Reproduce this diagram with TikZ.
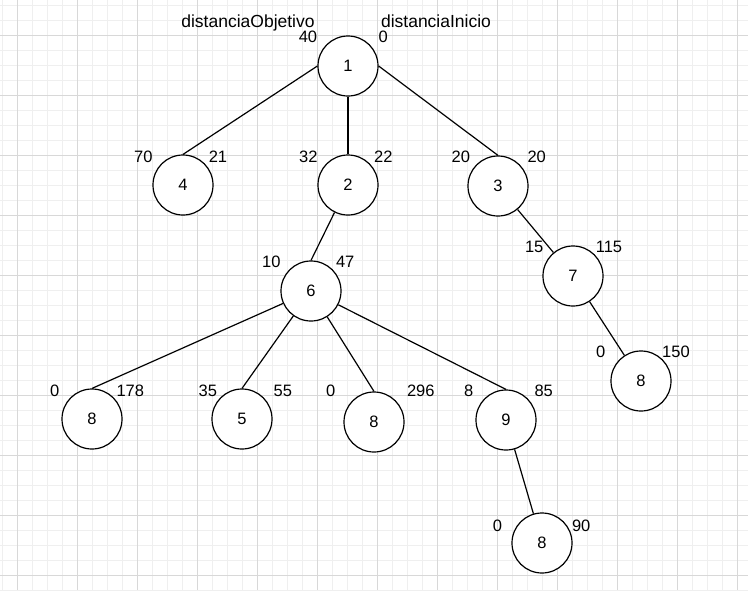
\documentclass[tikz,border=0pt]{standalone}
\usepackage{fontspec}
\setmainfont{Liberation Sans}
\definecolor{minorgrid}{HTML}{EFEFEF}
\definecolor{majorgrid}{HTML}{D8D8D8}
\begin{document}
\begin{tikzpicture}[x=1pt,y=-1pt,
  minorline/.style={draw=minorgrid,line width=0.8pt},
  majorline/.style={draw=majorgrid,line width=0.8pt},
  vert/.style={circle,draw,line width=1.2pt,fill=white,minimum size=60pt,inner sep=0pt,font=\fontsize{16.5}{18}\selectfont},
  num/.style={anchor=base,inner sep=0pt,font=\fontsize{16.5}{18}\selectfont},
  head/.style={anchor=base,inner sep=0pt,font=\fontsize{17.5}{19}\selectfont},
  edge/.style={line width=1.2pt}]
\useasboundingbox (0,0) rectangle (748,590);
\fill[white] (0,0) rectangle (748,590);
\foreach \i in {0,...,49} \draw[minorline] ({2.3+15*\i},0) -- ({2.3+15*\i},590);
\foreach \j in {0,...,39} \draw[minorline] (0,{5+15*\j}) -- (748,{5+15*\j});
\foreach \i in {0,...,12} \draw[majorline] ({17.3+60*\i},0) -- ({17.3+60*\i},590);
\foreach \j in {0,...,9} \draw[majorline] (0,{35+60*\j}) -- (748,{35+60*\j});

\node[vert] (n1) at (348,66) {1};
\node[vert] (n4) at (183,185) {4};
\node[vert] (n2) at (348,185) {2};
\node[vert] (n3) at (498,186) {3};
\node[vert] (n7) at (573,276) {7};
\node[vert] (n8r) at (641,381) {8};
\node[vert] (n6) at (311,291) {6};
\node[vert] (n8a) at (92,419) {8};
\node[vert] (n5) at (242,419) {5};
\node[vert] (n8b) at (374,422) {8};
\node[vert] (n9) at (506,420) {9};
\node[vert] (n8c) at (542,543) {8};

\draw[edge] (n1.west) -- (n4.north);
\draw[edge] (n1) -- (n2);
\draw[edge] (n1.east) -- (n3.north);
\draw[edge] (n2) -- (n6.north);
\draw[edge] (n3) -- (n7);
\draw[edge] (n7) -- (n8r);
\draw[edge] (n6) -- (n8a.north);
\draw[edge] (n6) -- (n5.north);
\draw[edge] (n6) -- (n8b.north);
\draw[edge] (n6) -- (n9.north);
\draw[edge] (n9) -- (n8c);

\node[head] (hobj) at (248,27.5) {distanciaObjetivo};
\node[head] (hini) at (436,27.5) {distanciaInicio};
\node[num] (a1) at (308,42.7) {40};
\node[num] (b1) at (383.3,42.7) {0};
\node[num] (a4) at (143.3,162.7) {70};
\node[num] (b4) at (218,162.7) {21};
\node[num] (a2) at (308.3,162.7) {32};
\node[num] (b2) at (383.3,162.7) {22};
\node[num] (a3) at (460.8,162.7) {20};
\node[num] (b3) at (536.7,162.7) {20};
\node[num] (a7) at (534.2,252.7) {15};
\node[num] (b7) at (609,252.7) {115};
\node[num] (a8r) at (600.8,357.7) {0};
\node[num] (b8r) at (676,357.7) {150};
\node[num] (a6) at (271.3,267.7) {10};
\node[num] (b6) at (345.2,267.7) {47};
\node[num] (a8a) at (54.8,396.7) {0};
\node[num] (b8a) at (130.3,396.7) {178};
\node[num] (a5) at (207.8,396.7) {35};
\node[num] (b5) at (282.8,396.7) {55};
\node[num] (a8b) at (330.8,396.7) {0};
\node[num] (b8b) at (420.8,396.7) {296};
\node[num] (a9) at (468.8,396.7) {8};
\node[num] (b9) at (543.7,396.7) {85};
\node[num] (a8c) at (497.5,531.7) {0};
\node[num] (b8c) at (581.2,531.7) {90};
\end{tikzpicture}
\end{document}
